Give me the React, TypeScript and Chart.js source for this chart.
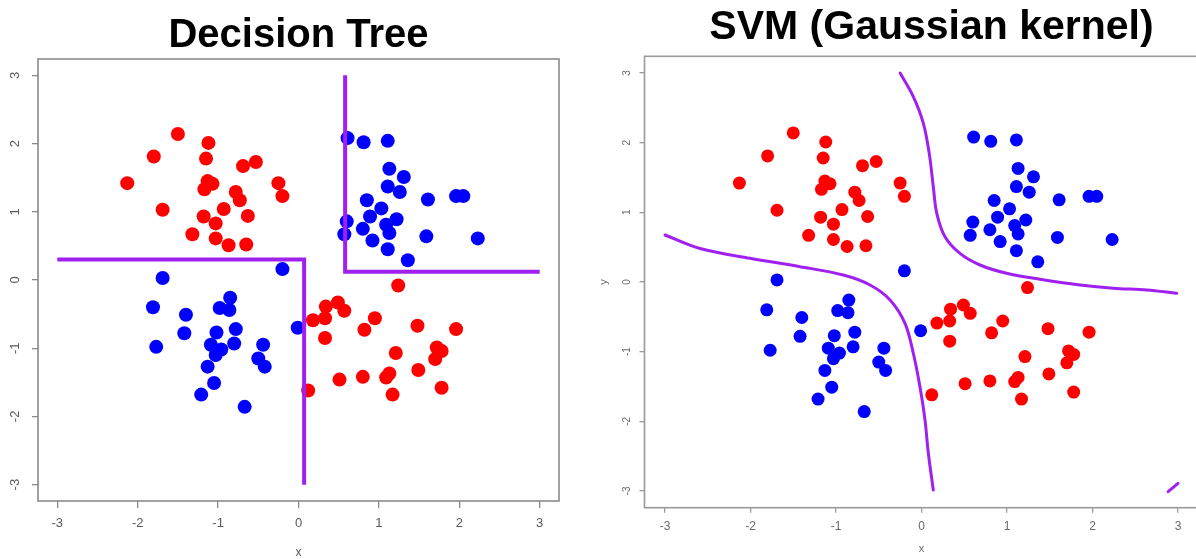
import React, { useEffect, useRef } from "react";
import { Chart, registerables } from "chart.js";

Chart.register(...registerables);

// ---- data ----
const AXIS_TICKS = [-3, -2, -1, 0, 1, 2, 3];
const AXIS_MIN = -3.24;
const AXIS_MAX = 3.24;

const RED_POINTS: [number, number][] = [
  [-1.5, 2.14], [-1.12, 2.01], [-1.8, 1.81], [-1.15, 1.78], [-0.69, 1.67], [-0.53, 1.73],
  [-2.13, 1.42], [-1.13, 1.45], [-1.07, 1.41], [-1.17, 1.33], [-0.25, 1.42], [-0.2, 1.23],
  [-0.78, 1.29], [-0.73, 1.17], [-1.69, 1.03], [-0.93, 1.04], [-1.18, 0.93], [-0.63, 0.94],
  [-1.03, 0.83], [-1.32, 0.67], [-1.03, 0.61], [-0.87, 0.51], [-0.65, 0.52],
  [1.24, -0.08], [0.34, -0.39], [0.49, -0.33], [0.57, -0.45], [0.18, -0.59], [0.33, -0.56],
  [0.33, -0.85], [0.95, -0.56], [0.82, -0.73], [1.48, -0.67], [1.96, -0.72], [1.21, -1.07],
  [1.72, -0.99], [1.78, -1.04], [1.7, -1.16], [1.49, -1.32], [1.13, -1.37], [1.09, -1.43],
  [0.8, -1.42], [0.51, -1.46], [0.12, -1.62], [1.17, -1.68], [1.78, -1.58],
];

const BLUE_POINTS: [number, number][] = [
  [0.61, 2.08], [0.81, 2.02], [1.11, 2.04], [1.13, 1.63], [1.31, 1.51], [1.11, 1.37],
  [1.26, 1.29], [0.85, 1.17], [1.03, 1.05], [0.89, 0.93], [1.22, 0.89], [0.6, 0.86],
  [0.57, 0.67], [0.8, 0.75], [1.09, 0.81], [1.13, 0.69], [0.92, 0.58], [1.11, 0.45],
  [1.36, 0.29], [1.61, 1.18], [1.96, 1.23], [2.05, 1.23], [1.59, 0.64], [2.23, 0.61],
  [-0.2, 0.16], [-1.69, 0.03], [-1.81, -0.4], [-1.4, -0.51], [-1.42, -0.78], [-1.77, -0.98],
  [-0.85, -0.26], [-0.98, -0.41], [-0.86, -0.44], [-1.02, -0.77], [-0.78, -0.72], [-0.8, -0.93],
  [-1.09, -0.95], [-0.96, -1.02], [-1.03, -1.1], [-1.13, -1.27], [-1.05, -1.51], [-1.21, -1.68],
  [-0.67, -1.86], [-0.44, -0.95], [-0.5, -1.15], [-0.42, -1.27], [-0.01, -0.7],
];

const TREE_SPLIT_LEFT: [number, number][] = [[-3, 0.3], [0.07, 0.3], [0.07, -3]];
const TREE_SPLIT_RIGHT: [number, number][] = [[0.58, 3], [0.58, 0.12], [3, 0.12]];

const SVM_BOUNDARY_UPPER: [number, number][] = [
  [-0.25, 3.0], [-0.096, 2.66], [0.021, 2.28], [0.09, 1.85], [0.138, 1.37], [0.178, 0.99],
  [0.275, 0.65], [0.45, 0.41], [0.684, 0.244], [0.996, 0.125], [1.386, 0.039], [1.854, -0.043],
  [2.243, -0.09], [2.634, -0.115], [2.985, -0.162],
];
const SVM_BOUNDARY_LOWER: [number, number][] = [
  [-3.0, 0.675], [-2.59, 0.48], [-2.006, 0.34], [-1.421, 0.22], [-0.915, 0.1], [-0.602, -0.043],
  [-0.368, -0.258], [-0.193, -0.593], [-0.096, -1.023], [-0.018, -1.503], [0.041, -1.98],
  [0.08, -2.459], [0.138, -2.986],
];
const SVM_BOUNDARY_CORNER: [number, number][] = [[2.885, -3.01], [3.0, -2.89]];

// ---- styling ----
const FONT = "'Liberation Sans', Arial, sans-serif";
const PURPLE = "#A020F0";
const RED = "#FF0000";
const BLUE = "#0000FF";

const toXY = (arr: [number, number][]) => arr.map(([x, y]) => ({ x, y }));

const plotBox = {
  id: "plotBox",
  afterDraw(chart: any, _args: any, opts: any) {
    const { ctx, chartArea } = chart;
    const { left, top, right, bottom } = chartArea;
    ctx.save();
    ctx.strokeStyle = opts.color;
    ctx.lineWidth = opts.width;
    ctx.strokeRect(left, top, right - left, bottom - top);
    ctx.restore();
  },
};

type PanelSpec = {
  title: string;
  titleSize: number;
  titlePadTop: number;
  titlePadBottom: number;
  titleFullSize: boolean;
  rightGutter: number;
  padRight: number;
  yAxisWidth: number;
  xAxisHeight: number;
  pointRadius: number;
  xTickLen: number;
  xTickSize: number;
  xTickPad: number;
  yTickLen: number;
  yTickSize: number;
  yTickPad: number;
  xTitleSize: number;
  xTitlePadBottom: number;
  showYTitle: boolean;
  yTitleSize: number;
  yTitlePadTop: number;
  tickColor: string;
  boxColor: string;
  lines: { data: [number, number][]; width: number; tension: number; cap: string }[];
};

function buildConfig(p: PanelSpec): any {
  const lineSets = p.lines.map((l) => ({
    data: toXY(l.data),
    showLine: true,
    pointRadius: 0,
    borderColor: PURPLE,
    backgroundColor: PURPLE,
    borderWidth: l.width,
    tension: l.tension,
    borderCapStyle: l.cap,
    borderJoinStyle: "miter",
    fill: false,
  }));
  const scales: any = {
    x: {
      type: "linear",
      position: "bottom",
      min: AXIS_MIN,
      max: AXIS_MAX,
      afterBuildTicks: (s: any) => {
        s.ticks = AXIS_TICKS.map((v) => ({ value: v }));
      },
      afterFit: (s: any) => {
        s.height = p.xAxisHeight;
      },
      border: { display: false },
      grid: {
        display: true,
        drawOnChartArea: false,
        drawTicks: true,
        tickLength: p.xTickLen,
        color: p.boxColor,
        lineWidth: 1.3,
      },
      ticks: {
        color: p.tickColor,
        font: { family: FONT, size: p.xTickSize },
        padding: p.xTickPad,
        maxRotation: 0,
        autoSkip: false,
        callback: (v: any) => String(v),
      },
      title: {
        display: true,
        text: "x",
        color: p.tickColor,
        font: { family: FONT, size: p.xTitleSize, lineHeight: 1 },
        padding: { top: 0, bottom: p.xTitlePadBottom },
      },
    },
    y: {
      type: "linear",
      position: "left",
      min: AXIS_MIN,
      max: AXIS_MAX,
      afterBuildTicks: (s: any) => {
        s.ticks = AXIS_TICKS.map((v) => ({ value: v }));
      },
      afterFit: (s: any) => {
        s.width = p.yAxisWidth;
      },
      border: { display: false },
      grid: {
        display: true,
        drawOnChartArea: false,
        drawTicks: true,
        tickLength: p.yTickLen,
        color: p.boxColor,
        lineWidth: 1.3,
      },
      ticks: {
        color: p.tickColor,
        font: { family: FONT, size: p.yTickSize },
        padding: p.yTickPad,
        minRotation: 90,
        maxRotation: 90,
        crossAlign: "center",
        autoSkip: false,
        callback: (v: any) => String(v),
      },
      title: {
        display: p.showYTitle,
        text: "y",
        color: p.tickColor,
        font: { family: FONT, size: p.yTitleSize, lineHeight: 1 },
        padding: { top: p.yTitlePadTop, bottom: 0 },
      },
    },
  };
  if (p.rightGutter > 0) {
    // empty spacer column on the right (outside the visible page) so the
    // full-width title centres where the original one does
    scales.gutter = {
      type: "linear",
      position: "right",
      display: true,
      afterFit: (s: any) => {
        s.width = p.rightGutter;
      },
      border: { display: false },
      grid: { display: false },
      ticks: { display: false },
    };
  }
  return {
    type: "scatter",
    data: {
      datasets: [
        ...lineSets,
        {
          data: toXY(RED_POINTS),
          backgroundColor: RED,
          borderColor: RED,
          borderWidth: 0,
          pointRadius: p.pointRadius,
        },
        {
          data: toXY(BLUE_POINTS),
          backgroundColor: BLUE,
          borderColor: BLUE,
          borderWidth: 0,
          pointRadius: p.pointRadius,
        },
      ],
    },
    options: {
      responsive: false,
      animation: false,
      layout: { padding: { left: 0, right: p.padRight, top: 0, bottom: 0 } },
      plugins: {
        legend: { display: false },
        tooltip: { enabled: false },
        title: {
          display: true,
          text: p.title,
          fullSize: p.titleFullSize,
          color: "#000",
          font: { family: FONT, size: p.titleSize, weight: "bold", lineHeight: 1 },
          padding: { top: p.titlePadTop, bottom: p.titlePadBottom },
        },
        plotBox: { color: p.boxColor, width: 1.6 },
      },
      scales,
    },
    plugins: [plotBox],
  };
}

const LEFT_PANEL: PanelSpec = {
  title: "Decision Tree",
  titleSize: 40,
  titlePadTop: 15.5,
  titlePadBottom: 3.5,
  titleFullSize: false,
  rightGutter: 0,
  padRight: 31,
  yAxisWidth: 38,
  xAxisHeight: 58,
  pointRadius: 7,
  xTickLen: 7,
  xTickSize: 13,
  xTickPad: 8,
  yTickLen: 6,
  yTickSize: 13,
  yTickPad: 11,
  xTitleSize: 12,
  xTitlePadBottom: 0,
  showYTitle: false,
  yTitleSize: 12,
  yTitlePadTop: 0,
  tickColor: "#5a5a5a",
  boxColor: "#8a8a8a",
  lines: [
    { data: TREE_SPLIT_LEFT, width: 4, tension: 0, cap: "butt" },
    { data: TREE_SPLIT_RIGHT, width: 4, tension: 0, cap: "butt" },
  ],
};

const RIGHT_PANEL: PanelSpec = {
  title: "SVM (Gaussian kernel)",
  titleSize: 41,
  titlePadTop: 7.5,
  titlePadBottom: 7.8,
  titleFullSize: true,
  rightGutter: 74.5,
  padRight: 17,
  yAxisWidth: 54.5,
  xAxisHeight: 51.3,
  pointRadius: 6.5,
  xTickLen: 5,
  xTickSize: 12,
  xTickPad: 6.5,
  yTickLen: 5,
  yTickSize: 10,
  yTickPad: 8.3,
  xTitleSize: 11,
  xTitlePadBottom: 4.5,
  showYTitle: true,
  yTitleSize: 11,
  yTitlePadTop: 8.5,
  tickColor: "#6a6a6a",
  boxColor: "#9a9a9a",
  lines: [
    { data: SVM_BOUNDARY_UPPER, width: 3, tension: 0.35, cap: "round" },
    { data: SVM_BOUNDARY_LOWER, width: 3, tension: 0.35, cap: "round" },
    { data: SVM_BOUNDARY_CORNER, width: 3, tension: 0, cap: "round" },
  ],
};

function Panel({ spec, left, width }: { spec: PanelSpec; left: number; width: number }) {
  const ref = useRef<HTMLCanvasElement | null>(null);
  useEffect(() => {
    if (!ref.current) return;
    const chart = new Chart(ref.current, buildConfig(spec));
    return () => chart.destroy();
  }, [spec]);
  return (
    <canvas
      ref={ref}
      width={width}
      height={559}
      style={{ position: "absolute", left, top: 0, width, height: 559, display: "block" }}
    />
  );
}

export default function App() {
  return (
    <div
      style={{
        position: "fixed",
        left: 0,
        top: 0,
        width: 1196,
        height: 559,
        overflow: "hidden",
        background: "#ffffff",
      }}
    >
      <Panel spec={LEFT_PANEL} left={0} width={590} />
      <Panel spec={RIGHT_PANEL} left={590} width={700} />
    </div>
  );
}
